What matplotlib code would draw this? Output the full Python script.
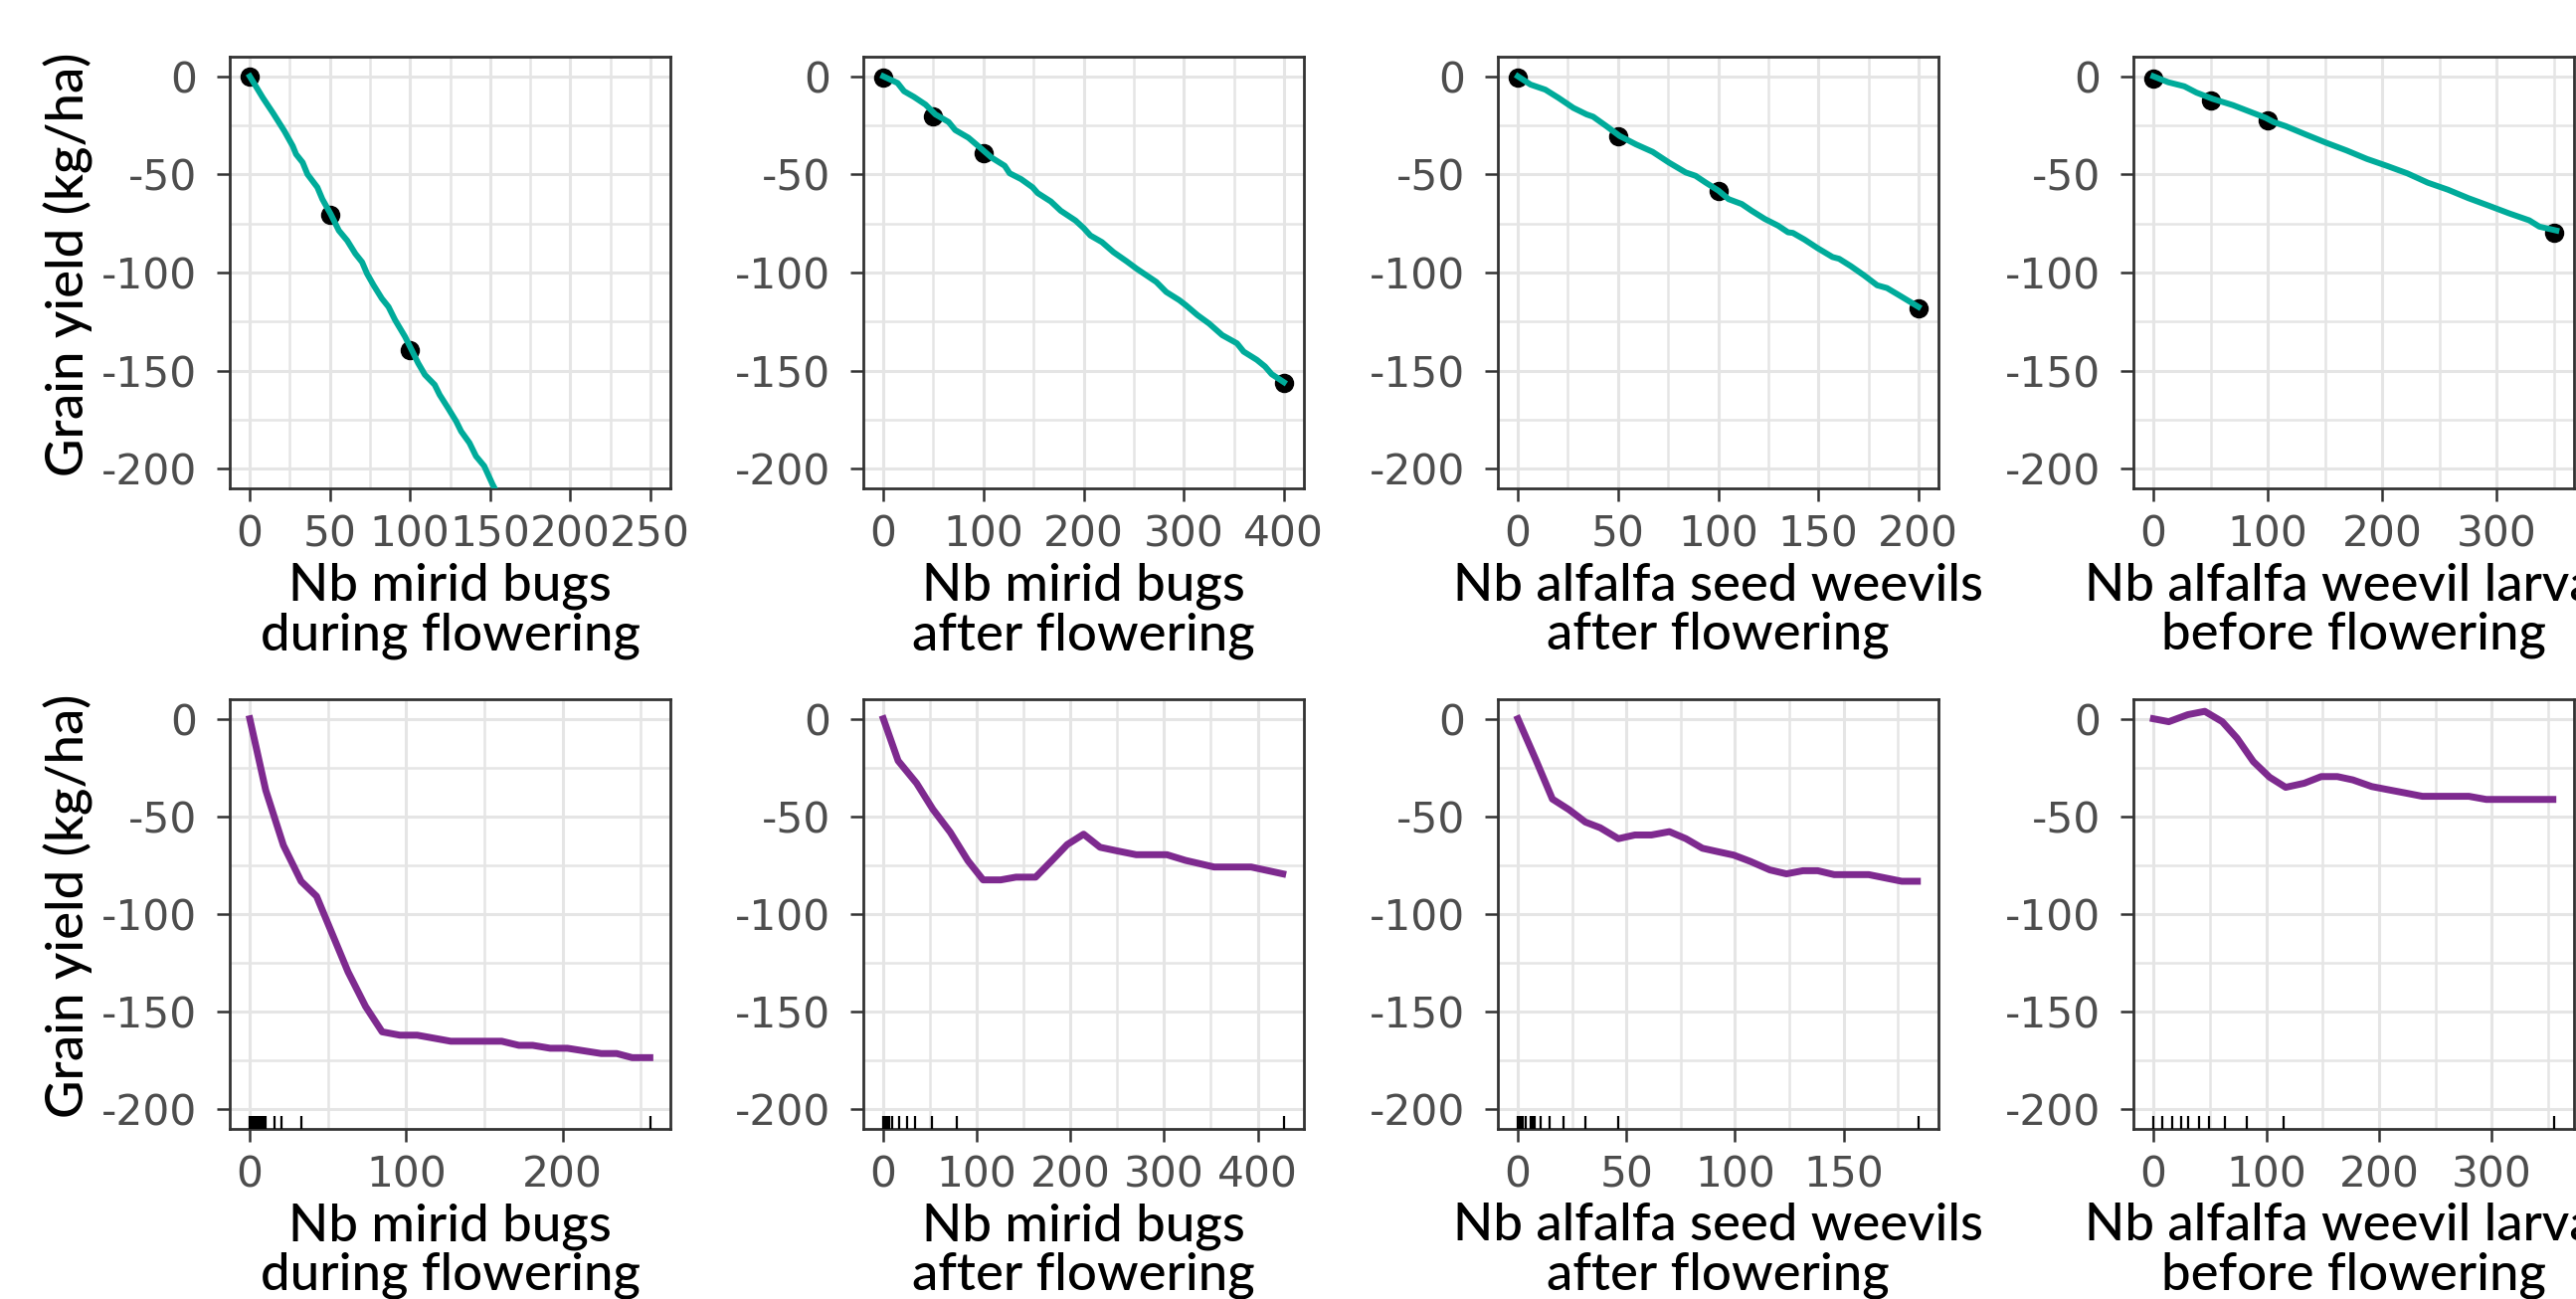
import matplotlib
matplotlib.use("Agg")
import matplotlib.pyplot as plt
from matplotlib.ticker import MultipleLocator, AutoMinorLocator

# x axis titles (same for both rows)
x_titles = ["Nb mirid bugs\nduring flowering",
            "Nb mirid bugs\nafter flowering",
            "Nb alfalfa seed weevils\nafter flowering",
            "Nb alfalfa weevil larvae\nbefore flowering"]
y_title = "Grain yield (kg/ha)"

# ---- top row: fitted linear response + estimated points ----
top_xrange = [(0, 250), (0, 400), (0, 200), (0, 350)]
top_xstep = [50, 100, 50, 100]

fit_x1 = [0, 8.2, 14.4, 21.6, 26.8, 28.9, 33.0, 36.0, 42.2, 45.3, 50.5, 55.6, 60.8, 65.9, 70.1,
          73.2, 77.3, 82.4, 86.6, 90.7, 96.9, 101.0, 105.1, 109.3, 115.4, 118.5, 123.7, 128.8,
          131.9, 137.1, 141.2, 146.3, 151.5, 156.0]
fit_y1 = [0, -11.0, -18.6, -27.9, -35.5, -39.7, -43.9, -49.9, -56.6, -62.6, -70.2, -78.6, -83.7,
          -90.4, -94.7, -100.6, -106.5, -113.2, -117.5, -124.2, -132.7, -139.4, -146.2, -152.1,
          -157.2, -162.3, -169.0, -175.8, -180.9, -186.8, -193.6, -198.6, -207.9, -215.0]
fit_x2 = [0, 14.2, 20.7, 30.6, 42.1, 52.0, 65.2, 71.8, 85.0, 96.5, 108.0, 121.2, 126.1, 137.6,
          149.1, 154.1, 167.3, 177.1, 191.9, 200.2, 206.7, 218.3, 229.8, 243.0, 252.8, 262.7,
          272.6, 282.5, 295.6, 302.2, 313.7, 325.3, 338.4, 353.2, 359.8, 373.0, 381.2, 387.8, 400.0]
fit_y2 = [0, -3.4, -7.6, -10.5, -14.4, -19.4, -23.3, -27.4, -31.3, -36.3, -41.4, -45.6, -49.4,
          -52.4, -56.6, -59.5, -63.8, -68.5, -73.5, -77.4, -81.1, -84.5, -89.6, -94.3, -98.0,
          -101.4, -104.8, -109.9, -114.1, -116.7, -121.7, -126.0, -131.9, -136.1, -140.3,
          -144.5, -147.9, -151.8, -155.9]
fit_x3 = [0, 6.3, 13.7, 20.3, 27.7, 34.3, 37.6, 44.2, 50.8, 59.0, 67.3, 75.5, 83.8, 88.7, 93.7,
          100.2, 105.2, 111.8, 116.7, 123.3, 129.9, 134.9, 137.3, 143.1, 149.7, 157.1, 160.4,
          166.2, 172.8, 179.4, 184.3, 190.9, 200.0]
fit_y3 = [0, -4.2, -6.8, -11.0, -16.1, -19.4, -20.6, -25.4, -30.4, -34.7, -38.5, -44.0, -49.0,
          -50.7, -54.1, -58.3, -62.6, -65.1, -68.5, -72.7, -76.1, -79.5, -79.8, -83.2, -87.6,
          -92.1, -93.0, -96.7, -101.4, -106.5, -107.9, -111.9, -117.5]
fit_x4 = [0, 12.8, 27.0, 37.6, 51.8, 69.5, 83.7, 97.9, 105.0, 115.6, 133.3, 151.1, 168.8, 186.5,
          204.3, 222.0, 239.7, 257.4, 275.2, 292.9, 310.6, 328.4, 337.2, 352.1]
fit_y4 = [0, -3.0, -5.1, -8.3, -11.5, -14.7, -17.9, -21.1, -23.3, -25.4, -29.7, -33.9, -37.8,
          -42.1, -45.7, -49.5, -54.2, -57.8, -62.1, -65.9, -69.8, -73.4, -76.6, -78.6]

pts_x1, pts_y1 = [0, 50, 100], [0, -70.5, -139.5]
pts_x2, pts_y2 = [0, 50, 100, 400], [-0.5, -20.5, -39, -156.5]
pts_x3, pts_y3 = [0, 50, 100, 200], [-0.5, -30.5, -58.5, -118]
pts_x4, pts_y4 = [0, 50, 100, 350], [-1, -12.5, -22.5, -79.5]

# ---- bottom row: partial dependence curves + rug of observations ----
pd_x1 = [0, 10.2, 21.5, 32.8, 42.7, 62.8, 74.0, 84.6, 95.9, 107.0, 128.4, 161.0, 172.0, 180.8,
         192.0, 203.0, 224.6, 234.5, 244.4, 255.7]
pd_y1 = [0, -36.6, -64.8, -83.2, -90.9, -129.6, -147.3, -160.3, -162.0, -162.0, -165.1, -165.1,
         -167.2, -167.2, -168.7, -168.7, -171.4, -171.4, -173.5, -173.5]
pd_x2 = [0, 15.8, 35.5, 53.0, 71.5, 90.4, 106.6, 125.4, 141.7, 162.7, 180.3, 196.5, 214.0, 231.6,
         250.4, 270.2, 303.0, 322.8, 353.5, 393.0, 426.8]
pd_y2 = [0, -21.5, -33.0, -46.4, -58.1, -72.7, -82.5, -82.5, -81.1, -81.1, -72.5, -64.4, -59.1,
         -65.8, -67.7, -69.6, -69.6, -72.5, -75.9, -75.9, -79.4]
pd_x3 = [0, 8.3, 15.9, 23.5, 31.1, 37.9, 46.3, 53.9, 61.5, 69.8, 77.4, 85.0, 91.9, 99.4, 107.0,
         116.1, 123.7, 131.3, 138.1, 145.7, 161.6, 169.2, 176.8, 184.0]
pd_y3 = [0, -21.1, -41.1, -46.5, -52.9, -55.8, -61.4, -59.5, -59.5, -57.8, -61.4, -66.3, -68.0,
         -69.8, -73.0, -77.4, -79.4, -77.8, -77.8, -79.8, -79.8, -81.5, -83.2, -83.2]
pd_x4 = [0, 13.6, 30.5, 45.5, 61.0, 74.2, 88.5, 102.9, 117.2, 133.7, 148.7, 163.0, 176.7, 193.5,
         207.8, 223.3, 238.4, 279.6, 295.0, 354.0]
pd_y4 = [0, -1.5, 2.1, 3.8, -1.5, -10.0, -21.9, -29.9, -35.1, -33.0, -29.6, -29.6, -31.3, -34.7,
         -36.3, -38.0, -39.7, -39.7, -41.3, -41.3]

rug_1 = [0, 1, 2, 3, 4, 5, 6, 7, 8, 9, 10, 16, 20, 33, 256]
rug_2 = [0, 2, 4, 6, 9, 17, 25, 34, 52, 79, 428]
rug_3 = [0, 0.8, 1.5, 2.3, 3.8, 5.8, 6.8, 7.6, 10.3, 14.7, 20.8, 31.1, 46, 184.5]
rug_4 = [0, 8, 17, 25, 31, 40, 49, 63, 83, 115, 355]
bot_xstep = [100, 100, 50, 100]

fits = [(fit_x1, fit_y1), (fit_x2, fit_y2), (fit_x3, fit_y3), (fit_x4, fit_y4)]
pts = [(pts_x1, pts_y1), (pts_x2, pts_y2), (pts_x3, pts_y3), (pts_x4, pts_y4)]
pds = [(pd_x1, pd_y1), (pd_x2, pd_y2), (pd_x3, pd_y3), (pd_x4, pd_y4)]
rugs = [rug_1, rug_2, rug_3, rug_4]

TEAL = "#00AB9A"
PURPLE = "#7E2A8F"
GRID = "#E5E5E5"
DARK = "#333333"

plt.rcParams["axes.unicode_minus"] = False
plt.rcParams["font.family"] = ["DejaVu Sans"]
TITLE_FONT = ["Lato", "DejaVu Sans"]

fig = plt.figure(figsize=(25.9, 13.06), dpi=100)

W, H = 2590, 1306
col_left = [231, 868, 1506, 2145]
ax_w = 443
rows = [(57, 491), (703, 1135)]


def expand(lo, hi):
    pad = 0.05 * (hi - lo)
    return lo - pad, hi + pad


def style_axes(ax, xstep):
    ax.set_ylim(-210, 10)
    ax.yaxis.set_major_locator(MultipleLocator(50))
    ax.yaxis.set_minor_locator(AutoMinorLocator(2))
    ax.xaxis.set_major_locator(MultipleLocator(xstep))
    ax.xaxis.set_minor_locator(AutoMinorLocator(2))
    ax.grid(which="major", color=GRID, linewidth=2.2)
    ax.grid(which="minor", color=GRID, linewidth=1.8)
    ax.set_axisbelow(True)
    for s in ax.spines.values():
        s.set_color(DARK)
        s.set_linewidth(2.0)
    ax.tick_params(which="major", length=9.5, width=1.8, color=DARK,
                   labelsize=30.5, labelcolor="#4D4D4D")
    ax.tick_params(axis="x", pad=9)
    ax.tick_params(axis="y", pad=14)
    ax.tick_params(which="minor", length=0)


for r, (top, bottom) in enumerate(rows):
    for c in range(4):
        rect = [col_left[c] / W, 1 - bottom / H, ax_w / W, (bottom - top) / H]
        ax = fig.add_axes(rect)
        if r == 0:
            lo, hi = top_xrange[c]
            ax.set_xlim(*expand(lo, hi))
            style_axes(ax, top_xstep[c])
            ax.plot(pts[c][0], pts[c][1], "o", color="black", markersize=13, zorder=3)
            ax.plot(fits[c][0], fits[c][1], color=TEAL, linewidth=4.3, zorder=4)
        else:
            ax.set_xlim(*expand(min(rugs[c]), max(rugs[c])))
            style_axes(ax, bot_xstep[c])
            ax.plot(pds[c][0], pds[c][1], color=PURPLE, linewidth=5.0, zorder=4)
            ax.vlines(rugs[c], 0, 0.03, transform=ax.get_xaxis_transform(),
                      color="black", linewidth=1.6, zorder=3)
        ax.set_xlabel(x_titles[c], fontsize=38, family=TITLE_FONT, weight="medium",
                      linespacing=1.05)
        ax.xaxis.set_label_coords(0.5, -0.172)
        if c == 0:
            ax.set_ylabel(y_title, fontsize=38, family=TITLE_FONT, weight="medium")
            ax.yaxis.set_label_coords(-0.31, 0.52)

fig.savefig("out.png", dpi=100)
